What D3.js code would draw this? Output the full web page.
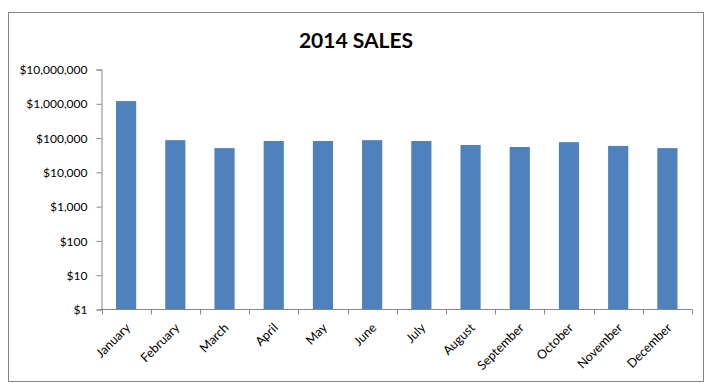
<!DOCTYPE html>
<html>
<head>
<meta charset="utf-8">
<script src="https://cdn.jsdelivr.net/npm/d3@7"></script>
<style>
  body { margin: 0; background: #fff; }
  .axis path, .axis line { stroke: #868686; }
  .axis text { font-family: Lato, "Open Sans", sans-serif; font-size: 12px; fill: #000; }
</style>
</head>
<body>
<svg id="chart" width="711" height="389"></svg>
<script>
// months and sales values
var months = ['January', 'February', 'March', 'April', 'May', 'June',
              'July', 'August', 'September', 'October', 'November', 'December'];
var sales = [1200000, 87000, 51000, 82000, 82000, 87000,
             82000, 63000, 55000, 76000, 59000, 51000];
var yTicks = [1, 10, 100, 1000, 10000, 100000, 1000000, 10000000];

var svg = d3.select('#chart');

// chart frame
svg.append('rect')
    .attr('x', 8.5).attr('y', 12.5)
    .attr('width', 695).attr('height', 369)
    .attr('fill', '#fff')
    .attr('stroke', '#868686');

svg.append('text')
    .attr('x', 356).attr('y', 48)
    .attr('text-anchor', 'middle')
    .style('font-family', 'Lato, "Open Sans", sans-serif')
    .style('font-weight', 'bold')
    .style('font-size', '21px')
    .text('2014 SALES');

var x = d3.scaleBand().domain(months).range([101.5, 692]).paddingInner(0.59).paddingOuter(0.295);
var y = d3.scaleLog().domain([1, 10000000]).range([309.5, 69.5]);

var fmt = d3.format('$,');

var yAxis = svg.append('g')
    .attr('class', 'axis')
    .attr('transform', 'translate(101.5,0)')
    .call(d3.axisLeft(y).tickValues(yTicks).tickFormat(function(d) { return fmt(d); })
        .tickSize(5).tickPadding(9));
yAxis.selectAll('text').attr('dy', '0.35em');

svg.selectAll('rect.bar')
    .data(sales)
    .enter()
    .append('rect')
    .classed('bar', true)
    .attr('x', function(d, i) { return x(months[i]); })
    .attr('y', function(d) { return y(d); })
    .attr('width', x.bandwidth())
    .attr('height', function(d) { return y(1) - y(d); })
    .attr('fill', '#4f81bd');

// category axis with ticks between the categories
var xAxis = svg.append('g')
    .attr('class', 'axis')
    .attr('transform', 'translate(0,309.5)');
xAxis.append('line')
    .attr('x1', 101.5).attr('x2', 692)
    .attr('stroke', '#868686');
var step = x.step();
xAxis.selectAll('line.tick')
    .data(d3.range(months.length + 1))
    .enter()
    .append('line')
    .classed('tick', true)
    .attr('x1', function(i) { return Math.round(101.5 + i * step) + 0.5; })
    .attr('x2', function(i) { return Math.round(101.5 + i * step) + 0.5; })
    .attr('y1', 0).attr('y2', 5)
    .attr('stroke', '#868686');
xAxis.selectAll('text')
    .data(months)
    .enter()
    .append('text')
    .attr('text-anchor', 'end')
    .style('font-size', '12.5px')
    .attr('transform', function(d) {
        return 'translate(' + (x(d) + x.bandwidth() / 2 + 5) + ',19) rotate(-45)';
    })
    .text(function(d) { return d; });
</script>
</body>
</html>
